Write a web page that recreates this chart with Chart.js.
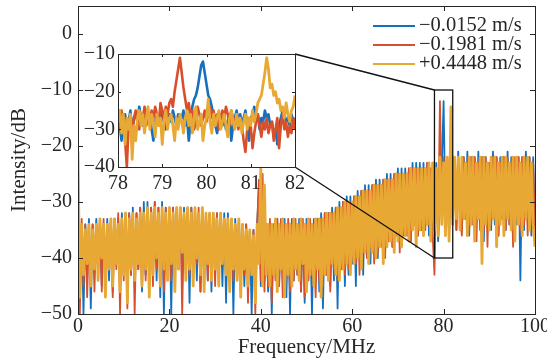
<!DOCTYPE html>
<html>
<head>
<meta charset="utf-8">
<script src="https://cdn.jsdelivr.net/npm/chart.js@4.4.1/dist/chart.umd.min.js"></script>
<style>
  body{margin:0;background:#fff}
  #wrap{position:relative;width:547px;height:361px}
  canvas{position:absolute}
</style>
</head>
<body>
<div id="wrap">
  <canvas id="mainChart" width="547" height="361" style="left:0;top:0"></canvas>
  <canvas id="zoomChart" width="236" height="156" style="left:76px;top:40px"></canvas>
</div>
<script>
const seriesLabels = ['\u22120.0152 m/s','\u22120.1981 m/s','+0.4448 m/s'];
const seriesColors = ['#1470BE','#D7502B','#E8A834'];

// main spectrum, one value every 0.4 MHz from 0 to 100 MHz (dB)
const blueMain = [
  -30,-46,-34,-50,-34,-44,-33,-49,-34,-42, -33,-43,-33,-45,-34,-42,-33,-44,-33,-46,
  -33,-41,-33,-44,-32,-42,-32,-45,-32,-43, -31,-44,-32,-42,-31,-46,-30,-43,-30,-45,
  -31,-42,-30,-44,-31,-47,-30,-50,-31,-43, -31,-50,-31,-44,-31,-42,-31,-45,-31,-43,
  -31,-48,-31,-42,-31,-44,-32,-46,-31,-43, -32,-44,-32,-46,-32,-43,-32,-42,-32,-45,
  -32,-48,-32,-43,-33,-50,-33,-44,-33,-42, -34,-45,-34,-43,-35,-50,-35,-44,-34,-27,
  -45,-28,-44,-34,-46,-34,-50,-34,-43,-33, -45,-34,-44,-33,-47,-34,-50,-33,-44,-34,
  -43,-33,-46,-34,-48,-33,-44,-34,-50,-33, -44,-33,-46,-32,-49,-32,-43,-32,-45,-31,
  -44,-31,-49,-30,-42,-30,-45,-29,-43,-29, -41,-29,-45,-28,-40,-28,-43,-27,-39,-27,
  -41,-27,-38,-26,-40,-26,-37,-26,-39,-25, -36,-25,-38,-25,-35,-24,-37,-24,-36,-24,
  -35,-24,-37,-23,-34,-23,-36,-23,-35,-23, -34,-23,-36,-24,-33,-35,-23,-37,-30,-24,
  -12,-33,-25,-36,-22,-34,-23,-35,-21,-33, -35,-22,-33,-21,-36,-22,-34,-22,-33,-21,
  -35,-22,-37,-22,-33,-23,-35,-21,-34,-22, -36,-22,-33,-22,-35,-21,-34,-22,-36,-23,
  -34,-22,-44,-22,-35,-21,-33,-22,-36,-22,-34
];
const redMain = [
  -23,-50,-33,-45,-34,-47,-35,-43,-34,-46, -34,-42,-33,-46,-33,-44,-34,-41,-33,-47,
  -33,-42,-32,-50,-33,-44,-32,-49,-32,-43, -32,-50,-32,-42,-31,-45,-32,-44,-31,-41,
  -31,-45,-30,-42,-31,-43,-31,-46,-31,-42, -31,-44,-31,-43,-31,-42,-31,-50,-32,-38,
  -31,-43,-31,-44,-32,-41,-31,-46,-32,-42, -32,-44,-32,-42,-33,-45,-32,-43,-33,-41,
  -33,-42,-33,-45,-33,-44,-34,-42,-34,-46, -34,-43,-34,-48,-35,-42,-35,-50,-34,-26,
  -44,-25,-46,-34,-45,-33,-48,-34,-44,-33, -45,-33,-47,-34,-43,-33,-46,-34,-44,-33,
  -43,-34,-46,-33,-47,-34,-44,-33,-42,-34, -47,-33,-44,-33,-45,-32,-43,-32,-46,-32,
  -42,-31,-44,-31,-41,-30,-43,-30,-42,-30, -40,-29,-41,-29,-43,-28,-39,-28,-40,-28,
  -38,-27,-41,-27,-39,-27,-38,-26,-40,-26, -37,-26,-38,-25,-36,-25,-39,-25,-35,-25,
  -36,-24,-37,-24,-34,-24,-36,-24,-35,-24, -35,-23,-34,-24,-36,-43,-24,-35,-12,-30,
  -22,-34,-23,-36,-24,-33,-22,-35,-23,-32, -36,-22,-33,-23,-35,-22,-34,-22,-37,-23,
  -33,-22,-35,-22,-38,-23,-34,-22,-33,-22, -36,-23,-33,-22,-35,-22,-34,-23,-38,-22,
  -33,-22,-35,-22,-34,-23,-36,-22,-33,-23,-35
];
const yellowMain = [
  -21,-47,-34,-43,-35,-41,-34,-45,-35,-42, -34,-44,-33,-40,-34,-47,-34,-42,-33,-45,
  -33,-41,-34,-46,-33,-43,-32,-48,-33,-42, -32,-44,-33,-41,-32,-45,-32,-42,-31,-47,
  -32,-43,-31,-40,-32,-45,-31,-42,-32,-44, -31,-41,-32,-46,-31,-42,-31,-39,-32,-44,
  -31,-42,-32,-45,-31,-40,-32,-43,-31,-46, -32,-41,-32,-44,-32,-42,-33,-45,-32,-41,
  -33,-43,-33,-46,-33,-42,-34,-44,-33,-47, -34,-42,-35,-45,-35,-43,-36,-48,-34,-41,
  -24,-45,-27,-43,-34,-45,-34,-43,-33,-46, -34,-42,-33,-47,-34,-43,-34,-45,-33,-42,
  -34,-44,-33,-41,-34,-46,-33,-43,-34,-45, -33,-42,-33,-47,-33,-43,-32,-44,-32,-41,
  -32,-43,-31,-44,-31,-42,-30,-41,-30,-43, -30,-41,-29,-40,-29,-42,-28,-39,-28,-41,
  -28,-39,-27,-40,-27,-38,-27,-41,-26,-38, -26,-37,-26,-39,-25,-37,-25,-38,-25,-36,
  -25,-37,-24,-35,-24,-38,-24,-35,-24,-36, -24,-34,-23,-37,-23,-35,-24,-36,-22,-34,
  -23,-36,-22,-37,-13,-34,-22,-33,-22,-35, -22,-33,-23,-36,-22,-34,-22,-37,-23,-33,
  -22,-41,-22,-34,-23,-35,-22,-33,-22,-38, -23,-34,-22,-36,-22,-33,-23,-35,-22,-37,
  -22,-34,-23,-36,-22,-33,-22,-35,-23,-34,-38
];

// inset, one value every 0.04 MHz from 78 to 82 MHz (dB)
const blueZoom = [
  -25,-29,-33,-27,-26,-30,-28,-25,-31,-27, -26,-28,-24,-27,-29,-26,-25,-28,-26,-30,
  -33,-28,-26,-29,-27,-25,-28,-30,-27,-26, -28,-25,-27,-29,-26,-28,-27,-25,-29,-27,
  -33,-28,-24,-22,-21,-19,-16,-13,-12,-15, -18,-21,-22,-24,-27,-29,-31,-28,-26,-29,
  -27,-30,-28,-26,-33,-29,-27,-25,-28,-26, -28,-27,-25,-29,-33,-27,-26,-24,-28,-26,
  -30,-27,-28,-25,-27,-26,-29,-28,-32,-30, -34,-29,-27,-25,-26,-28,-27,-29,-26,-28,
  -27
];
const redZoom = [
  -27,-30,-25,-28,-33,-40,-29,-26,-31,-27, -25,-28,-30,-26,-27,-24,-29,-26,-28,-25,
  -27,-24,-26,-29,-23,-25,-28,-24,-26,-23, -22,-24,-20,-17,-14,-11,-15,-19,-22,-25,
  -23,-27,-25,-30,-28,-24,-26,-29,-27,-25, -28,-26,-24,-27,-25,-28,-26,-30,-27,-25,
  -27,-24,-26,-29,-25,-27,-28,-26,-30,-27, -29,-33,-36,-30,-27,-29,-35,-31,-28,-26,
  -29,-32,-28,-30,-27,-31,-29,-28,-33,-30, -27,-35,-29,-26,-30,-28,-32,-29,-31,-27,
  -30
];
const yellowZoom = [
  -28,-25,-31,-26,-34,-27,-30,-26,-38,-29, -33,-27,-25,-29,-26,-31,-27,-24,-30,-26,
  -28,-32,-26,-29,-27,-34,-28,-25,-30,-27, -26,-29,-33,-27,-30,-26,-28,-31,-27,-25,
  -29,-26,-31,-27,-24,-30,-28,-26,-33,-29, -27,-22,-28,-31,-26,-29,-27,-25,-30,-28,
  -26,-29,-32,-27,-25,-28,-30,-26,-29,-27, -31,-28,-26,-30,-27,-29,-25,-28,-26,-23,
  -22,-21,-18,-15,-11,-14,-19,-18,-21,-20, -23,-22,-25,-24,-27,-23,-26,-28,-25,-24,
  -21
];

const xTicksMain = [0,20,40,60,80,100];
const yTicksMain = [-50,-40,-30,-20,-10,0];
const xTicksZoom = [78,79,80,81,82];
const yTicksZoom = [-40,-30,-20,-10];
const zoomRange = {x0:78, x1:82, y0:-40, y1:-10};

const freqMain = blueMain.map((_, i) => +(i * 0.4).toFixed(2));
const freqZoom = blueZoom.map((_, i) => +(78 + i * 0.04).toFixed(2));

const FONT = '"Liberation Serif", "Times New Roman", serif';
const INK = '#262626';

function minus(v){ return v < 0 ? '\u2212' + Math.abs(v) : '' + v; }

function makeSets(freqs, lists, widths){
  return lists.map((vals, i) => ({
    label: seriesLabels[i],
    data: freqs.map((f, k) => ({x: f, y: vals[k]})),
    borderColor: seriesColors[i],
    borderWidth: widths[i],
    borderJoinStyle: 'round',
    pointRadius: 0,
    tension: 0,
    order: 3 - i
  }));
}

function fixAxis(size, isX){
  return axis => {
    if(isX) axis.height = size; else axis.width = size;
    axis.paddingLeft = axis.paddingRight = axis.paddingTop = axis.paddingBottom = 0;
  };
}

// box with inward ticks, as in the original plot
function drawFrame(chart, tickLen){
  const {ctx, chartArea: a, scales: {x, y}} = chart;
  ctx.save();
  ctx.strokeStyle = INK;
  ctx.lineWidth = 1;
  ctx.beginPath();
  x.ticks.forEach(t => {
    const px = Math.round(x.getPixelForValue(t.value)) + 0.5;
    ctx.moveTo(px, a.bottom); ctx.lineTo(px, a.bottom - tickLen);
    ctx.moveTo(px, a.top); ctx.lineTo(px, a.top + tickLen);
  });
  y.ticks.forEach(t => {
    const py = Math.round(y.getPixelForValue(t.value)) + 0.5;
    ctx.moveTo(a.left, py); ctx.lineTo(a.left + tickLen, py);
    ctx.moveTo(a.right, py); ctx.lineTo(a.right - tickLen, py);
  });
  ctx.stroke();
  ctx.strokeRect(Math.round(a.left) + 0.5, Math.round(a.top) + 0.5, Math.round(a.right - a.left), Math.round(a.bottom - a.top));
  ctx.restore();
}

function initCharts(){
  const zoomEl = document.getElementById('zoomChart');
  const zoomChart = new Chart(zoomEl.getContext('2d'), {
    type: 'line',
    data: { datasets: makeSets(freqZoom, [blueZoom, redZoom, yellowZoom], [2.6, 2.6, 2.8]) },
    options: {
      responsive: false, animation: false, events: [],
      layout: { padding: {top: 14, right: 17, left: 0, bottom: 0} },
      scales: {
        x: { type: 'linear', min: 78, max: 82,
             afterBuildTicks: a => { a.ticks = xTicksZoom.map(v => ({value: v})); },
             afterFit: fixAxis(29, true),
             grid: {display: false, drawTicks: false}, border: {display: false},
             ticks: {padding: 5, color: INK, font: {family: FONT, size: 20}, maxRotation: 0} },
        y: { min: -40, max: -10,
             afterBuildTicks: a => { a.ticks = yTicksZoom.map(v => ({value: v})); },
             afterFit: fixAxis(42, false),
             grid: {display: false, drawTicks: false}, border: {display: false},
             ticks: {padding: 3, color: INK, font: {family: FONT, size: 20}, callback: minus} }
      },
      plugins: { legend: {display: false}, tooltip: {enabled: false} }
    },
    plugins: [{
      id: 'zoomFrame',
      beforeDatasetsDraw(chart){
        const {ctx, chartArea: a} = chart;
        ctx.save(); ctx.fillStyle = '#fff';
        ctx.fillRect(a.left, a.top, a.right - a.left, a.bottom - a.top);
        ctx.restore();
      },
      afterDatasetsDraw(chart){ drawFrame(chart, 3); }
    }]
  });

  const mainEl = document.getElementById('mainChart');
  new Chart(mainEl.getContext('2d'), {
    type: 'line',
    data: { datasets: makeSets(freqMain, [blueMain, redMain, yellowMain], [1.8, 1.8, 2.8]) },
    options: {
      responsive: false, animation: false, events: [],
      layout: { padding: {top: 6, right: 12, left: 0, bottom: 0} },
      scales: {
        x: { type: 'linear', min: 0, max: 100,
             afterBuildTicks: a => { a.ticks = xTicksMain.map(v => ({value: v})); },
             afterFit: fixAxis(47, true),
             grid: {display: false, drawTicks: false}, border: {display: false},
             ticks: {padding: 1, color: INK, font: {family: FONT, size: 20}, maxRotation: 0},
             title: {display: true, text: 'Frequency/MHz', color: INK, font: {family: FONT, size: 21}, padding: {top: 0, bottom: 1}} },
        y: { min: -50, max: 5,
             afterBuildTicks: a => { a.ticks = yTicksMain.map(v => ({value: v})); },
             afterFit: fixAxis(78, false),
             grid: {display: false, drawTicks: false}, border: {display: false},
             ticks: {padding: 6, color: INK, font: {family: FONT, size: 20}, callback: minus},
             title: {display: true, text: 'Intensity/dB', color: INK, font: {family: FONT, size: 21}, padding: {top: 7, bottom: 0}} }
      },
      plugins: { legend: {display: false}, tooltip: {enabled: false} }
    },
    plugins: [{
      id: 'mainFrame',
      afterDatasetsDraw(chart){
        const {ctx, scales: {x, y}} = chart;
        drawFrame(chart, 5);

        // zoom box and the two lines to the inset
        const za = zoomChart.chartArea;
        const ox = parseFloat(zoomEl.style.left), oy = parseFloat(zoomEl.style.top);
        const bx0 = x.getPixelForValue(zoomRange.x0), bx1 = x.getPixelForValue(zoomRange.x1);
        const by0 = y.getPixelForValue(zoomRange.y1), by1 = y.getPixelForValue(zoomRange.y0);
        ctx.save();
        ctx.strokeStyle = '#111';
        ctx.lineWidth = 1.3;
        ctx.strokeRect(bx0, by0, bx1 - bx0, by1 - by0);
        ctx.beginPath();
        ctx.moveTo(ox + za.right, oy + za.top); ctx.lineTo(bx0, by0);
        ctx.moveTo(ox + za.right, oy + za.bottom); ctx.lineTo(bx0, by1);
        ctx.stroke();

        // legend
        ctx.font = '20.5px ' + FONT;
        ctx.textBaseline = 'middle';
        seriesLabels.forEach((lab, i) => {
          const ly = 26 + i * 19;
          ctx.strokeStyle = seriesColors[i];
          ctx.lineWidth = 2.2;
          ctx.beginPath(); ctx.moveTo(373, ly); ctx.lineTo(415, ly); ctx.stroke();
          ctx.fillStyle = INK;
          ctx.fillText(lab, 419, ly);
        });
        ctx.restore();
      }
    }]
  });
}

document.addEventListener('DOMContentLoaded', initCharts);
</script>
</body>
</html>
